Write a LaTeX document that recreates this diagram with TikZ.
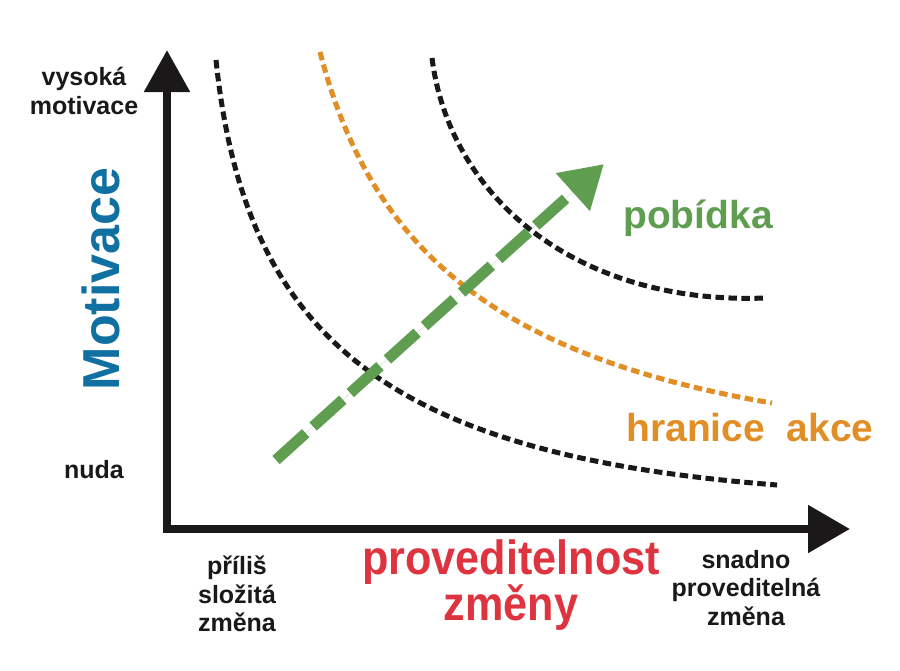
\documentclass[tikz,border=0pt]{standalone}
\usepackage{fontspec}
\setmainfont{Liberation Sans}
\newfontfamily\condfont{Liberation Sans}[FakeStretch=0.9]
\usetikzlibrary{arrows.meta}
\definecolor{motblue}{RGB}{16,112,162}
\definecolor{zmred}{RGB}{222,52,64}
\definecolor{akorange}{RGB}{226,142,38}
\definecolor{pobgreen}{RGB}{95,158,80}
\definecolor{inkblack}{RGB}{26,24,24}
\tikzset{
  axisline/.style={line width=8.5pt, draw=inkblack, line join=miter,
    {Triangle[length=42pt,width=44pt]}-{Triangle[length=42pt,width=46pt]}},
  blackcurve/.style={line width=5pt, draw=inkblack, dash pattern=on 8.5pt off 4.5pt},
  orangecurve/.style={line width=5pt, draw=akorange, dash pattern=on 8.5pt off 4.5pt},
  greenarrow/.style={line width=11pt, draw=pobgreen, fill=pobgreen, dash pattern=on 40pt off 10pt,
    -{Triangle[length=42pt,width=48pt]}},
  smalllabel/.style={text=inkblack, align=center, inner sep=0pt,
    font=\fontsize{25}{28.5}\selectfont\bfseries},
  biglabel/.style={inner sep=0pt, align=center, font=\fontsize{39}{44}\selectfont\bfseries}
}
\begin{document}
\begin{tikzpicture}[x=1pt,y=-1pt]
\useasboundingbox (0,0) rectangle (900,670);
\fill[white] (0,0) rectangle (900,670);

% axes
\coordinate (ytip) at (167,50);
\coordinate (origin) at (167,529);
\coordinate (xtip) at (850,529);
\draw[axisline] (ytip) -- (origin) -- (xtip);

% curves
\coordinate (c1a) at (216,60);
\coordinate (c1b) at (777,485);
\draw[blackcurve] (c1a) .. controls (245,340) and (390,455) .. (c1b);
\coordinate (c2a) at (320,52);
\coordinate (c2b) at (772,403);
\draw[orangecurve] (c2a) .. controls (370,245) and (490,355) .. (c2b);
\coordinate (c3a) at (432,58);
\coordinate (c3b) at (765,298);
\draw[blackcurve] (c3a) .. controls (450,200) and (580,305) .. (c3b);

% incentive arrow
\coordinate (gstart) at (276,460);
\coordinate (gtip) at (604,164);
\draw[greenarrow] (gstart) -- (gtip);

% labels
\node[smalllabel] (vys) at (84,91) {vysoká\\motivace};
\node[smalllabel] (nuda) at (94,470) {nuda};
\node[inner sep=0pt, text=motblue, rotate=90, anchor=base,
  font=\fontsize{52}{56}\selectfont\bfseries] (mot) at (119,279) {Motivace};
\node[smalllabel] (slozita) at (237,594) {příliš\\složitá\\změna};
\node[smalllabel] (snadno) at (746,588) {snadno\\proveditelná\\změna};
\node[inner sep=0pt, align=center, text=zmred,
  font=\fontsize{48}{45}\selectfont\condfont\bfseries] (prov) at (511,585) {proveditelnost\\změny};
\node[biglabel, text=pobgreen] (pob) at (698,218) {pobídka};
\node[biglabel, text=akorange] (hran) at (750,428) {hranice\ \ akce};
\end{tikzpicture}
\end{document}
